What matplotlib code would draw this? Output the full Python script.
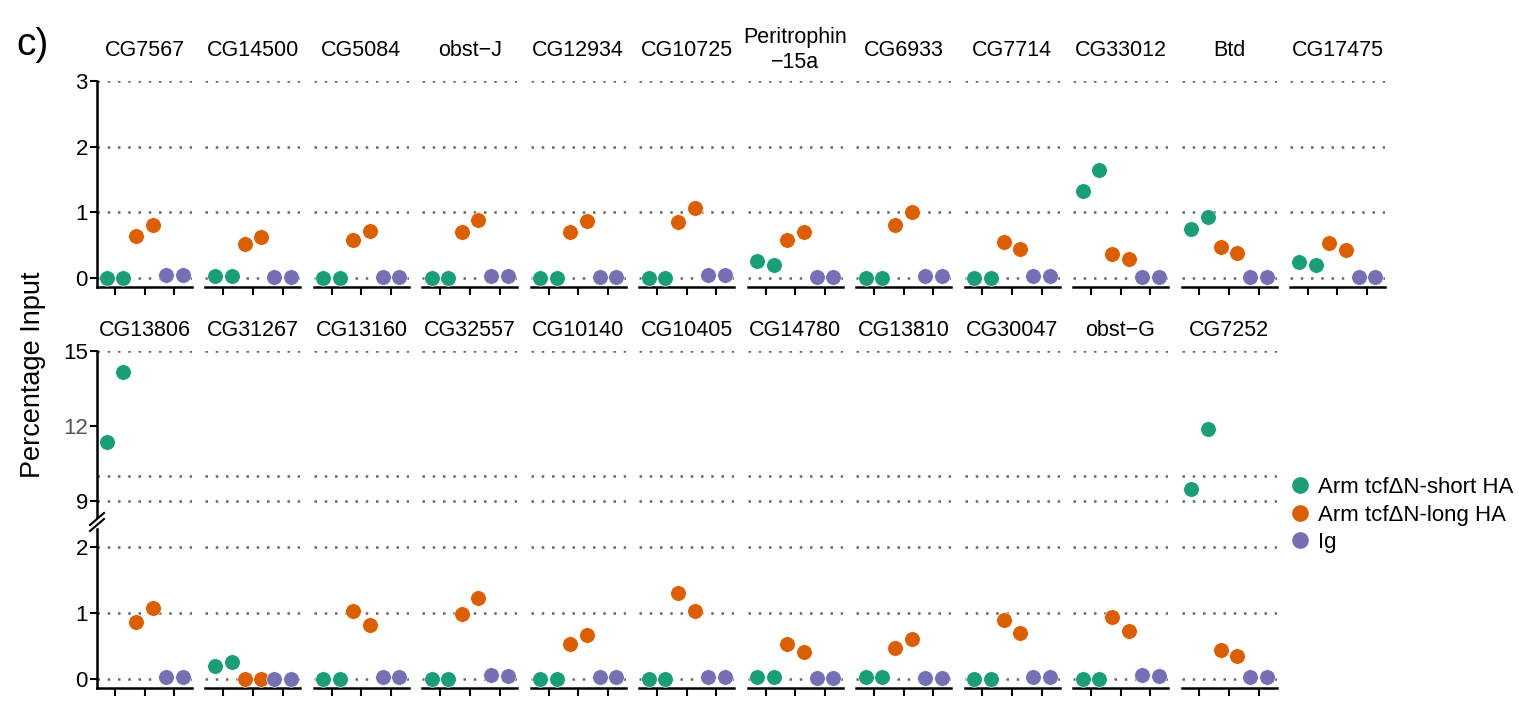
import numpy as np
import matplotlib.pyplot as plt
from matplotlib.lines import Line2D

plt.rcParams['font.family'] = ['Liberation Sans', 'DejaVu Sans']

W, H = 1519, 713
COLORS = ['#1B9E77', '#D95F02', '#7570B3']
GROUPS = ['Arm tcf\u0394N-short HA', 'Arm tcf\u0394N-long HA', 'Ig']

# top row (y from 0 to 3)
top_genes = ['CG7567', 'CG14500', 'CG5084', 'obst\u2212J', 'CG12934', 'CG10725',
             'Peritrophin\n\u221215a', 'CG6933', 'CG7714', 'CG33012', 'Btd', 'CG17475']
top_short = [[0.0, 0.0], [0.03, 0.03], [0.0, 0.0], [0.0, 0.0], [0.0, 0.0], [0.0, 0.0],
             [0.25, 0.19], [0.0, 0.0], [0.0, 0.0], [1.32, 1.65], [0.75, 0.93], [0.24, 0.20]]
top_long = [[0.64, 0.81], [0.51, 0.62], [0.57, 0.71], [0.70, 0.88], [0.70, 0.87], [0.85, 1.07],
            [0.57, 0.70], [0.81, 1.00], [0.55, 0.44], [0.37, 0.29], [0.47, 0.38], [0.53, 0.42]]
top_ig = [[0.04, 0.04], [0.02, 0.02], [0.02, 0.02], [0.03, 0.03], [0.02, 0.02], [0.04, 0.04],
          [0.02, 0.02], [0.03, 0.03], [0.03, 0.03], [0.02, 0.02], [0.02, 0.02], [0.02, 0.02]]

# bottom row (broken y axis)
bot_genes = ['CG13806', 'CG31267', 'CG13160', 'CG32557', 'CG10140', 'CG10405',
             'CG14780', 'CG13810', 'CG30047', 'obst\u2212G', 'CG7252']
bot_short = [[11.34, 14.16], [0.20, 0.25], [0.0, 0.0], [0.0, 0.0], [0.0, 0.0], [0.0, 0.0],
             [0.03, 0.03], [0.03, 0.03], [0.0, 0.0], [0.0, 0.0], [9.48, 11.87]]
bot_long = [[0.86, 1.07], [0.0, 0.0], [1.02, 0.82], [0.98, 1.22], [0.52, 0.66], [1.30, 1.02],
            [0.52, 0.41], [0.47, 0.60], [0.89, 0.70], [0.93, 0.73], [0.43, 0.35]]
bot_ig = [[0.03, 0.03], [0.0, 0.0], [0.03, 0.03], [0.05, 0.04], [0.03, 0.03], [0.02, 0.02],
          [0.01, 0.01], [0.01, 0.01], [0.03, 0.03], [0.05, 0.04], [0.02, 0.02]]

DODGE = 0.28
GRID_KW = dict(color='#666666', lw=1.8, ls=(0, (1, 3.1)), zorder=1)


def px_axes(fig, left, top, width, height):
    return fig.add_axes([left / W, 1 - (top + height) / H, width / W, height / H])


def style(ax, ylim, grid, yticks, first, show_x):
    ax.set_xlim(0.4, 3.6)
    ax.set_ylim(*ylim)
    for g in grid:
        ax.axhline(g, **GRID_KW)
    for s in ['top', 'right']:
        ax.spines[s].set_visible(False)
    ax.spines['bottom'].set_visible(show_x)
    ax.spines['bottom'].set_linewidth(1.8)
    ax.spines['left'].set_visible(first)
    ax.spines['left'].set_linewidth(1.8)
    ax.set_xticks([1, 2, 3])
    ax.tick_params(axis='x', length=6 if show_x else 0, width=1.5, labelbottom=False)
    ax.set_yticks(yticks)
    ax.tick_params(axis='y', length=5, width=1.5, labelsize=16, pad=1.5,
                   left=first, labelleft=first)
    ax.patch.set_alpha(0)


def draw_points(ax, short, long, ig):
    for k, vals in enumerate([short, long, ig]):
        ax.scatter([k + 1 - DODGE, k + 1 + DODGE], vals, s=125, color=COLORS[k],
                   edgecolors='white', linewidths=0.4, zorder=3)


fig = plt.figure(figsize=(W / 100, H / 100), dpi=100)

x0, step, pw = 97, 108.45, 95

# top row
for i, gene in enumerate(top_genes):
    ax = px_axes(fig, x0 + i * step, 81, pw, 206)
    style(ax, (-0.14, 3.0), [0, 1, 2, 3], [0, 1, 2, 3], i == 0, True)
    draw_points(ax, top_short[i], top_long[i], top_ig[i])
    for c in ax.collections:
        c.set_clip_on(False)
    fig.text((x0 + i * step + pw / 2) / W, 1 - 50 / H, gene, ha='center', va='center',
             fontsize=15.5, linespacing=1.25)

# bottom row
for i, gene in enumerate(bot_genes):
    left = x0 + i * step
    up = px_axes(fig, left, 351, pw, 166)
    style(up, (8.35, 15.0), [9, 10, 15], [9, 12, 15], i == 0, False)
    lo = px_axes(fig, left, 529, pw, 159)
    style(lo, (-0.14, 2.27), [0, 1, 2], [0, 1, 2], i == 0, True)
    for ax in (up, lo):
        draw_points(ax, bot_short[i], bot_long[i], bot_ig[i])
    up.set_ylim(8.35, 15.0)
    lo.set_ylim(-0.14, 2.27)
    if i == 0:
        up.get_yticklabels()[1].set_color('#555555')
    fig.text((left + pw / 2) / W, 1 - 330 / H, gene, ha='center', va='center', fontsize=15.5)

# break marks
for dy in (0, 6):
    fig.add_artist(Line2D([90 / W, 104 / W], [1 - (525 + dy) / H, 1 - (513 + dy) / H],
                          color='black', lw=1.5))

fig.text(33 / W, 1 - 45 / H, 'c)', fontsize=28, ha='center', va='center')
fig.text(33 / W, 1 - 375 / H, 'Percentage Input', rotation=90, fontsize=19.5,
         ha='center', va='center')

handles = [Line2D([], [], marker='o', ls='', color=c, markersize=11) for c in COLORS]
fig.legend(handles, GROUPS, loc='center left', bbox_to_anchor=(1289 / W, 1 - 515 / H),
           frameon=False, fontsize=16, handlelength=1.0, handletextpad=0.3,
           labelspacing=0.3, borderpad=0, borderaxespad=0)

fig.savefig('out.png', dpi=100)
